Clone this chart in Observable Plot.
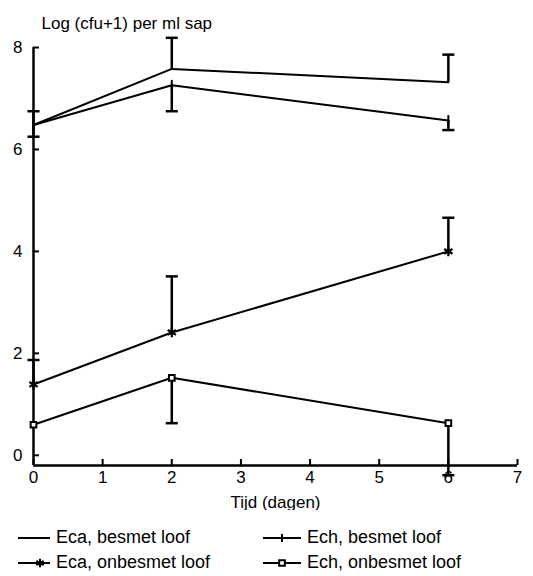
<!DOCTYPE html>
<html>
<head>
<meta charset="utf-8">
<script src="https://cdn.jsdelivr.net/npm/d3@7"></script>
<script src="https://cdn.jsdelivr.net/npm/@observablehq/plot@0.6"></script>
<style>
  body { margin: 0; background: #fff; font-family: "Liberation Sans", Arial, sans-serif; color: #000; }
  #chart { width: 533px; }
  .legend { display: grid; grid-template-columns: 245px 280px; row-gap: 4px; padding-left: 16px; padding-top: 17px; font-size: 18px; }
  .legend div { display: flex; align-items: center; height: 21px; }
  .legend svg { margin-right: 4px; }
</style>
</head>
<body>
<div id="chart"></div>
<script>
// Sampling days and mean log counts per series
const days = [0, 2, 6];
const seriesNames = ["Eca, besmet loof", "Ech, besmet loof", "Eca, onbesmet loof", "Ech, onbesmet loof"];
const ecaBesmet = [6.48, 7.58, 7.32];
const echBesmet = [6.48, 7.26, 6.57];
const ecaOnbesmet = [1.39, 2.41, 4.00];
const echOnbesmet = [0.60, 1.52, 0.63];
// Far end of each one-sided error bar (null = none)
const ecaBesmetErr = [6.75, 8.19, 7.86];
const echBesmetErr = [6.25, 6.75, 6.38];
const ecaOnbesmetErr = [1.87, 3.51, 4.66];
const echOnbesmetErr = [null, 0.63, -0.39];
// Axis ticks and labels
const xTicks = [0, 1, 2, 3, 4, 5, 6, 7];
const yTicks = [0, 2, 4, 6, 8];
const xLabel = "Tijd (dagen)";
const yLabel = "Log (cfu+1) per ml sap";

const values = [ecaBesmet, echBesmet, ecaOnbesmet, echOnbesmet];
const errs = [ecaBesmetErr, echBesmetErr, ecaOnbesmetErr, echOnbesmetErr];

const rows = seriesNames.flatMap((name, i) =>
  days.map((day, j) => ({series: name, idx: i, day, value: values[i][j], err: errs[i][j]}))
);
const withErr = rows.filter(d => d.err != null);

// Custom marker shapes
const capSymbol = {draw(ctx, size) { const w = Math.sqrt(size); ctx.moveTo(-w, 0); ctx.lineTo(w, 0); }};
const vtickSymbol = {draw(ctx, size) { const h = Math.sqrt(size); ctx.moveTo(0, -h); ctx.lineTo(0, h); }};
const dotSymbol = {draw(ctx, size) { const w = Math.sqrt(size); ctx.moveTo(-w, 0); ctx.lineTo(w, 0); }};

const markerFor = [dotSymbol, vtickSymbol, "asterisk", "square"];

const chart = Plot.plot({
  width: 533,
  height: 510,
  marginLeft: 33,
  marginRight: 16,
  marginTop: 47,
  marginBottom: 45,
  style: {fontFamily: "Liberation Sans, Arial, sans-serif", fontSize: "17px", color: "#000", background: "#fff"},
  x: {domain: [0, 7]},
  y: {domain: [-0.2, 8]},
  marks: [
    Plot.axisX({ticks: xTicks, tickFormat: "d", tickSize: -6, tickPadding: 11, strokeWidth: 2, label: xLabel, labelAnchor: "center", labelArrow: "none"}),
    Plot.axisY({ticks: yTicks, tickFormat: "d", tickSize: -6, tickPadding: 17, strokeWidth: 2, label: null}),
    Plot.text([yLabel], {frameAnchor: "top-left", dx: 8, dy: -31, textAnchor: "start", fontSize: 17}),
    Plot.ruleY([-0.2], {strokeWidth: 2.5}),
    Plot.ruleX([0], {y1: -0.2, y2: 8, strokeWidth: 2.5}),
    Plot.line(rows, {x: "day", y: "value", z: "series", stroke: "black", strokeWidth: 2}),
    Plot.ruleX(withErr, {x: "day", y1: "value", y2: "err", stroke: "black", strokeWidth: 2.5}),
    Plot.dot(withErr, {x: "day", y: "err", symbol: () => capSymbol, r: 3.4, stroke: "black", strokeWidth: 2.5}),
    Plot.dot(rows.filter(d => d.idx === 1), {x: "day", y: "value", symbol: () => vtickSymbol, r: 3, stroke: "black", strokeWidth: 2}),
    Plot.dot(rows.filter(d => d.idx === 2), {x: "day", y: "value", symbol: () => "asterisk", r: 4.5, stroke: "black", strokeWidth: 2.2}),
    Plot.dot(rows.filter(d => d.idx === 3), {x: "day", y: "value", symbol: () => "square", r: 3.2, stroke: "black", fill: "white", strokeWidth: 2})
  ]
});
document.getElementById("chart").appendChild(chart);

// Legend: line swatch with the series marker, in two columns
const legend = document.createElement("div");
legend.className = "legend";
seriesNames.forEach((name, i) => {
  const item = document.createElement("div");
  const w = i % 2 ? 42 : 36;
  const sw = d3.create("svg").attr("width", w).attr("height", 14);
  sw.append("line").attr("x1", 2).attr("x2", w - 2).attr("y1", 7).attr("y2", 7).attr("stroke", "black").attr("stroke-width", 2);
  const cx = i === 2 ? 24 : w / 2;
  const m = markerFor[i];
  const type = typeof m === "string" ? (m === "asterisk" ? d3.symbolAsterisk : d3.symbolSquare) : m;
  const size = i === 0 ? 3 : i === 1 ? 16 : i === 2 ? 50 : 32;
  sw.append("path").attr("transform", `translate(${cx},7)`)
    .attr("d", d3.symbol(type, size)())
    .attr("fill", i === 3 ? "white" : "none").attr("stroke", "black").attr("stroke-width", 2);
  item.appendChild(sw.node());
  item.appendChild(document.createTextNode(name));
  legend.appendChild(item);
});
document.getElementById("chart").appendChild(legend);
</script>
</body>
</html>
